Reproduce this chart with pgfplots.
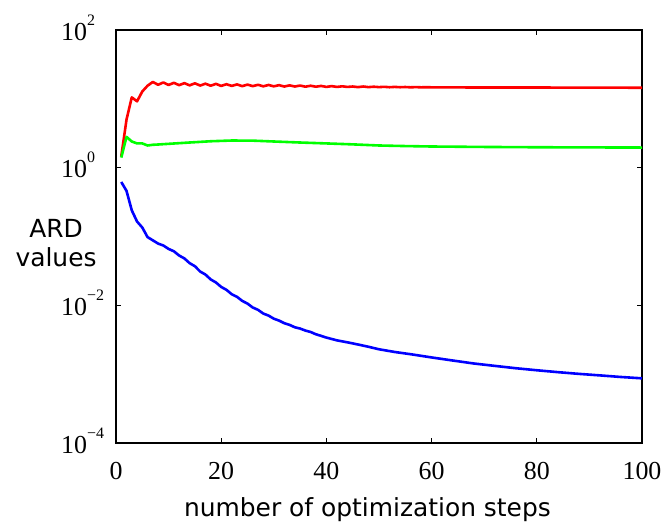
\documentclass[border=0pt]{standalone}
\usepackage{pgfplots}
\pgfplotsset{compat=1.18}
\usepackage{fontspec}
\setmainfont{Liberation Serif}
\newfontfamily\dejavu{DejaVu Sans}
\newcommand{\tl}[1]{10\raisebox{15bp}{\fontsize{16}{16}\selectfont #1}}
\begin{document}
\begin{tikzpicture}
\begin{axis}[
  name=ax,
  scale only axis,
  width=526bp, height=413bp,
  xmin=0, xmax=100,
  ymode=log, ymin=1e-4, ymax=1e2,
  xtick={0,20,40,60,80,100},
  ytick={1e-4,1e-2,1,1e2},
  yticklabels={\tl{−4},\tl{−2},\tl{0},\tl{2}},
  minor ytick={},
  tick align=inside,
  major tick length=5bp,
  tick style={black, line width=1.2bp},
  axis line style={line width=1.6bp},
  every axis plot/.append style={line width=2.6bp, line join=round},
  /pgf/number format/assume math mode=true,
  ticklabel style={font=\fontsize{26}{26}\selectfont, inner sep=0pt},
  xticklabel style={anchor=base, yshift=-36bp},
  yticklabel style={anchor=base west, xshift=-55bp, yshift=-10bp},
  xlabel={number of optimization steps},
  xlabel style={font=\dejavu\fontsize{25}{30}\selectfont, at={(axis description cs:0.478,0)}, anchor=base, yshift=-73bp, inner sep=0pt},
  ylabel={ARD\\values},
  ylabel style={font=\dejavu\fontsize{25}{30}\selectfont, align=center, rotate=-90, at={(axis description cs:-0.114,0.484)}, anchor=center, inner sep=0pt},
]
\addplot[color=red] coordinates {
(1,1.45)(2,5.0)(3,10.5)(4,9.2)(5,12.8)(6,15.5)(7,17.6)(8,16.0)(9,17.3)(10,15.9)
(11,17.1)(12,15.8)(13,16.9)(14,15.7)(15,16.8)(16,15.6)(17,16.6)(18,15.5)(19,16.5)(20,15.4)
(21,16.3)(22,15.4)(23,16.2)(24,15.3)(25,16.1)(26,15.3)(27,16.0)(28,15.2)(29,15.9)(30,15.2)
(31,15.8)(32,15.1)(33,15.7)(34,15.1)(35,15.6)(36,15.0)(37,15.5)(38,15.0)(39,15.4)(40,14.9)
(41,15.3)(42,14.9)(43,15.2)(44,14.9)(45,15.1)(46,14.8)(47,15.1)(48,14.8)(49,15.0)(50,14.8)
(51,14.95)(52,14.75)(53,14.9)(54,14.75)(55,14.85)(56,14.7)(57,14.8)(58,14.7)(59,14.75)(60,14.7)
(65,14.65)(70,14.6)(80,14.6)(90,14.55)(100,14.5)
};
\addplot[color=green] coordinates {
(1,1.4)(2,2.8)(3,2.4)(4,2.25)(5,2.25)(6,2.1)(7,2.15)(8,2.17)(10,2.22)(14,2.32)
(18,2.42)(22,2.48)(26,2.47)(30,2.4)(35,2.32)(40,2.25)(45,2.18)(50,2.1)(55,2.06)(60,2.03)
(70,2.0)(80,1.98)(90,1.97)(100,1.96)
};
\addplot[color=blue] coordinates {
(1,0.62)(2,0.46)(3,0.24)(4,0.165)(5,0.135)(6,0.098)(7,0.088)(8,0.079)(9,0.074)(10,0.066)
(11,0.061)(12,0.053)(13,0.048)(14,0.041)(15,0.037)(16,0.031)(17,0.028)(18,0.0238)(19,0.0215)(20,0.0185)
(21,0.0168)(22,0.0145)(23,0.0133)(24,0.0116)(25,0.0106)(26,0.0093)(27,0.0086)(28,0.0076)(29,0.0071)(30,0.0064)
(31,0.0060)(32,0.0055)(33,0.0052)(34,0.0048)(35,0.0046)(36,0.0043)(37,0.0041)(38,0.0038)(39,0.0036)(40,0.0034)
(42,0.0031)(44,0.0029)(46,0.0027)(48,0.0025)(50,0.0023)(53,0.0021)(56,0.00195)(60,0.00175)(64,0.00158)(68,0.00143)
(72,0.00132)(76,0.00122)(80,0.00114)(84,0.00107)(88,0.00101)(92,0.00096)(96,0.00091)(100,0.00087)
};
\end{axis}
\pgfresetboundingbox
\path ([shift={(-116bp,-80bp)}]ax.south west) rectangle ([shift={(25bp,30bp)}]ax.north east);
\end{tikzpicture}
\end{document}
